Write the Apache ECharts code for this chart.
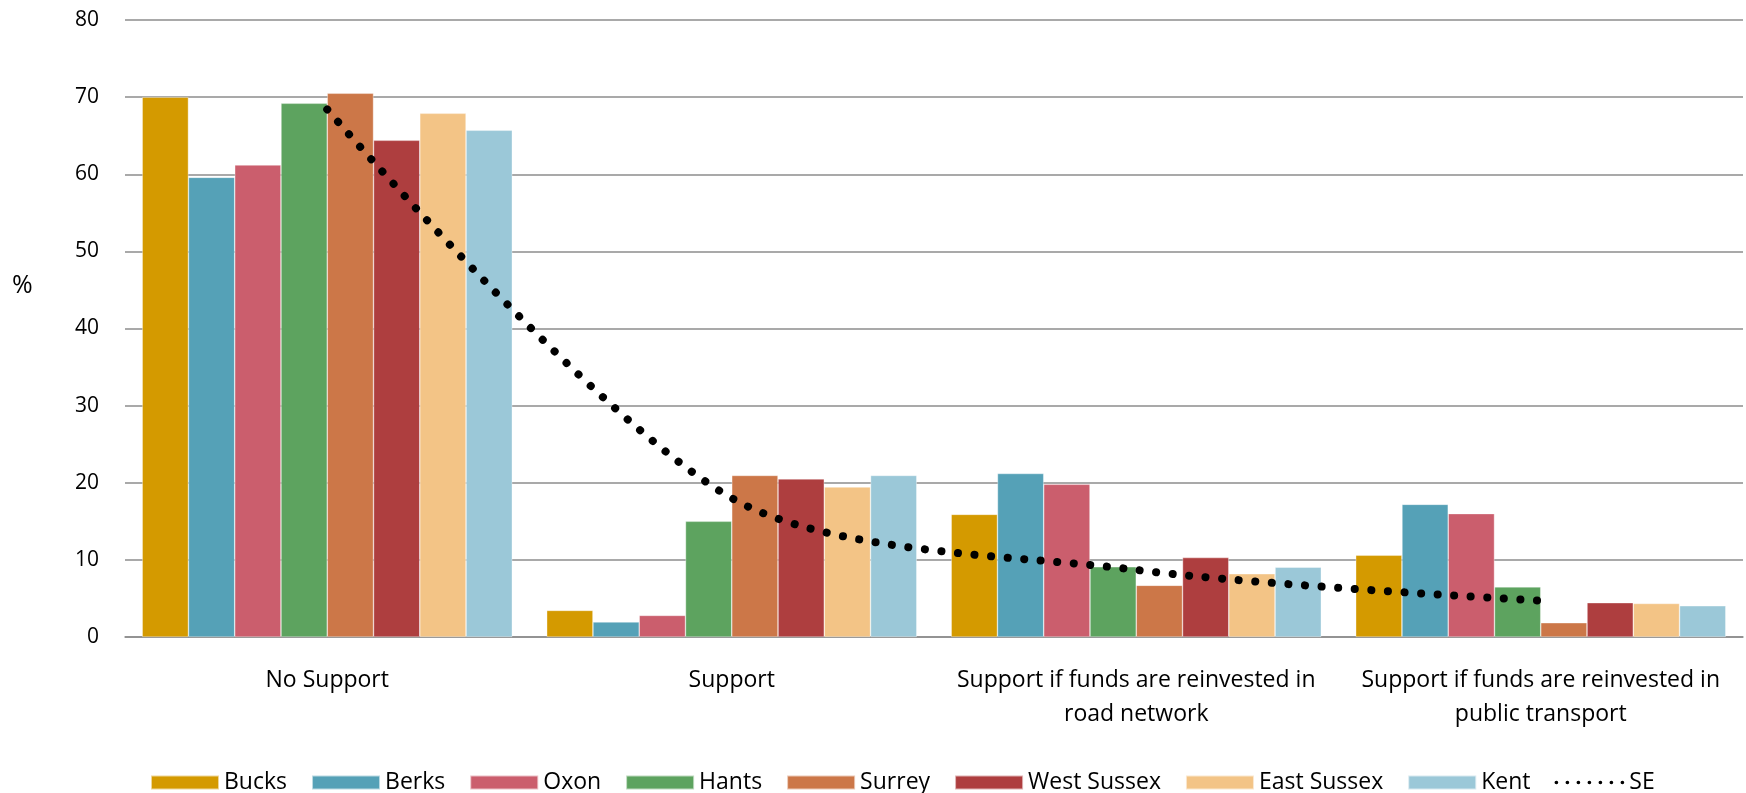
<!DOCTYPE html>
<html><head><meta charset="utf-8">
<script src="https://cdn.jsdelivr.net/npm/echarts@6/dist/echarts.min.js"></script>
<style>html,body{margin:0;padding:0;background:#fff}#c{width:1746px;height:793px}</style>
</head><body><div id="c"></div>
<script>
const categories = ["No Support", "Support", "Support if funds are reinvested in\nroad network", "Support if funds are reinvested in\npublic transport"];
const yTicks = [0, 10, 20, 30, 40, 50, 60, 70, 80];
const yAxisTitle = "%";
const bucks = [70.0, 3.45, 15.9, 10.6];
const berks = [59.6, 1.95, 21.2, 17.2];
const oxon = [61.2, 2.8, 19.8, 16.0];
const hants = [69.2, 15.0, 9.1, 6.5];
const surrey = [70.5, 20.95, 6.7, 1.85];
const westSussex = [64.4, 20.5, 10.3, 4.45];
const eastSussex = [67.9, 19.45, 8.2, 4.35];
const kent = [65.7, 20.95, 9.05, 4.05];
const se = [68.4, 18.0, 8.7, 4.7];

const barSeries = [
  ["Bucks", bucks, "#D49A00"],
  ["Berks", berks, "#55A1B7"],
  ["Oxon", oxon, "#CB5E6D"],
  ["Hants", hants, "#5DA35F"],
  ["Surrey", surrey, "#CC7748"],
  ["West Sussex", westSussex, "#AE3E3F"],
  ["East Sussex", eastSussex, "#F3C486"],
  ["Kent", kent, "#9BC8D8"]
];
const font = '"Open Sans", "DejaVu Sans", sans-serif';
const chart = echarts.init(document.getElementById('c'), null, {renderer: 'canvas'});
const series = barSeries.map(([name, data, color]) => ({
  name, type: 'bar', data, barGap: '0%', barCategoryGap: '8.5%',
  itemStyle: {color, borderColor: 'rgba(255,255,255,0.6)', borderWidth: 0.6},
  emphasis: {disabled: true}
}));
series.push({
  name: 'SE', type: 'line', data: se, smooth: 0.29, symbol: 'none', z: 10,
  lineStyle: {color: '#000', width: 8, type: [0.1, 16.5], cap: 'round'},
  itemStyle: {color: '#000'}
});
const legendData = barSeries.map(b => ({name: b[0], icon: 'rect'})).concat([{
  name: 'SE',
  itemStyle: {color: 'rgba(0,0,0,0)', borderColor: 'rgba(0,0,0,0)', borderWidth: 0, opacity: 0},
  lineStyle: {color: '#000', width: 3.6, type: [0.1, 10.9], cap: 'round', opacity: 1}
}]);
chart.setOption({
  animation: false,
  textStyle: {fontFamily: font},
  grid: {left: 125, right: 3, top: 20, bottom: 156, containLabel: false},
  legend: {
    top: 766, left: 145, itemWidth: 68, itemHeight: 14, itemGap: 24,
    data: legendData,
    textStyle: {fontFamily: font, fontSize: 23, color: '#000'}
  },
  graphic: [{
    type: 'text', left: 12, top: 273,
    style: {text: yAxisTitle, font: '25px ' + font, fill: '#000'}
  }],
  xAxis: {
    type: 'category', data: categories,
    axisLine: {show: true, lineStyle: {color: '#8c8c8c', width: 1.5}},
    axisTick: {show: false},
    axisLabel: {fontFamily: font, fontSize: 23, color: '#000', margin: 26, lineHeight: 34, interval: 0}
  },
  yAxis: {
    type: 'value', min: yTicks[0], max: yTicks[yTicks.length - 1], interval: 10,
    axisLine: {show: false}, axisTick: {show: false},
    splitLine: {lineStyle: {color: '#8c8c8c', width: 1.5}},
    axisLabel: {fontFamily: font, fontSize: 21, color: '#000', margin: 26}
  },
  series
});
</script></body></html>
